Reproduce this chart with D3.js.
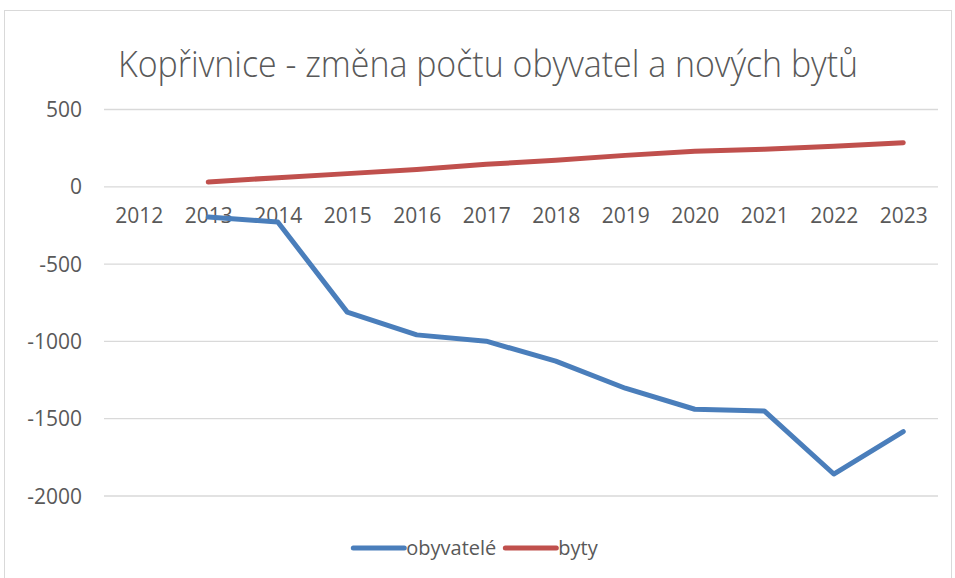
<!DOCTYPE html>
<html>
<head>
<meta charset="utf-8">
<script src="https://cdn.jsdelivr.net/npm/d3@7.9.0/dist/d3.min.js"></script>
<style>
  html, body { margin: 0; padding: 0; background: #fff; }
  svg { display: block; }
  text { fill: #595959; font-family: "Open Sans", sans-serif; }
</style>
</head>
<body>
<svg id="chart" width="955" height="578"></svg>
<script>
// data
const years = ['2012', '2013', '2014', '2015', '2016', '2017', '2018', '2019', '2020', '2021', '2022', '2023'];
const obyvatele = [null, -199, -231, -814, -961, -1002, -1131, -1306, -1442, -1453, -1861, -1587];
const byty = [null, 28, 56, 82, 108, 142, 168, 200, 227, 240, 259, 282];
const yTicks = [500, 0, -500, -1000, -1500, -2000];

const series = [
  { name: 'obyvatelé', values: obyvatele, color: '#4a7ebb' },
  { name: 'byty', values: byty, color: '#c0504d' }
];

const svg = d3.select('#chart');

// chart frame
svg.append('rect')
  .attr('x', 4.5).attr('y', 10.5)
  .attr('width', 947).attr('height', 600)
  .attr('fill', '#fff').attr('stroke', '#d9d9d9').attr('stroke-width', 1);

const x = d3.scalePoint().domain(years).range([104, 938]).padding(0.5);
const y = d3.scaleLinear().domain([-2000, 500]).range([495.5, 109]);

// title (squeezed to the width of the original narrow font)
svg.append('text')
  .attr('x', 118).attr('y', 77)
  .attr('font-size', 36)
  .attr('font-weight', 300)
  .attr('textLength', 740)
  .attr('lengthAdjust', 'spacingAndGlyphs')
  .text('Kopřivnice - změna počtu obyvatel a nových bytů');

// gridlines + y labels
const yAxis = svg.append('g')
  .attr('transform', 'translate(104,0)')
  .call(d3.axisLeft(y).tickValues(yTicks).tickSize(-834).tickPadding(22).tickFormat(d => String(d)));
yAxis.select('.domain').remove();
yAxis.selectAll('.tick line').attr('stroke', '#d9d9d9').attr('stroke-width', 1.3);
yAxis.selectAll('.tick text')
  .attr('font-size', 21).attr('font-family', '"Open Sans", sans-serif')
  .attr('fill', '#595959').attr('dy', '0.36em');

// category labels sit under the zero line
const xAxis = svg.append('g')
  .attr('transform', `translate(0,${y(0)})`)
  .call(d3.axisBottom(x).tickSize(0).tickPadding(22));
xAxis.select('.domain').remove();
xAxis.selectAll('.tick text')
  .attr('font-size', 21).attr('font-family', '"Open Sans", sans-serif')
  .attr('fill', '#595959');

// lines
const line = d3.line()
  .defined(d => d.v != null)
  .x(d => x(d.year))
  .y(d => y(d.v));

svg.append('g').selectAll('path')
  .data(series)
  .join('path')
  .attr('d', s => line(years.map((yr, i) => ({ year: yr, v: s.values[i] }))))
  .attr('fill', 'none')
  .attr('stroke', s => s.color)
  .attr('stroke-width', 5)
  .attr('stroke-linecap', 'round')
  .attr('stroke-linejoin', 'round');

// legend
const legend = svg.append('g');
let lx = 0;
series.forEach((s, i) => {
  const g = legend.append('g').attr('transform', `translate(${lx},0)`);
  g.append('line')
    .attr('x1', 2).attr('x2', 53).attr('y1', 0).attr('y2', 0)
    .attr('stroke', s.color).attr('stroke-width', 5).attr('stroke-linecap', 'round');
  const t = g.append('text')
    .attr('x', 55).attr('y', 7)
    .attr('font-size', 20)
    .text(s.name);
  lx += 55 + t.node().getComputedTextLength() + 7;
});
legend.attr('transform', `translate(${478 - lx / 2},548)`);
</script>
</body>
</html>
